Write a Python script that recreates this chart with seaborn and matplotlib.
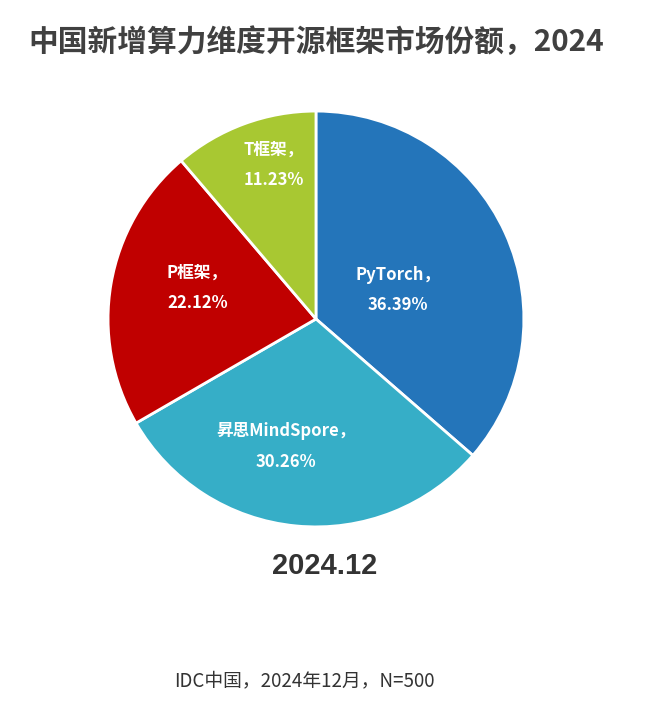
import numpy as np
import matplotlib
matplotlib.use("Agg")
import matplotlib.pyplot as plt
import seaborn as sns

# Framework market share data
frameworks = ["PyTorch", "昇思MindSpore", "P框架", "T框架"]
shares = [36.39, 30.26, 22.12, 11.23]
colors = ["#2475BA", "#36AEC7", "#C00000", "#A8C832"]

title = "中国新增算力维度开源框架市场份额，2024"
period = "2024.12"
source = "IDC中国，2024年12月，N=500"

sns.set_theme(style="white")
plt.rcParams["font.family"] = ["Noto Sans CJK SC", "DejaVu Sans"]

fig = plt.figure(figsize=(6.55, 7.22), dpi=100)
fig.patch.set_facecolor("white")

ax = fig.add_axes([0.1634, 0.2687, 0.638, 0.579])
wedges, _ = ax.pie(
    shares,
    colors=colors,
    startangle=90,
    counterclock=False,
    wedgeprops=dict(edgecolor="white", linewidth=2),
)
ax.set_xlim(-1.005, 1.005)
ax.set_ylim(-1.005, 1.005)
ax.set_aspect("equal")

# Per-wedge label placement: radial distance and angular nudge (degrees)
label_r = [0.42, 0.63, 0.59, 0.77]
label_dtheta = [-5, -8, -5, -5]
for w, name, val, r, dt in zip(wedges, frameworks, shares, label_r, label_dtheta):
    mid = np.deg2rad((w.theta1 + w.theta2) / 2 + dt)
    ax.text(r * np.cos(mid), r * np.sin(mid), f"{name}，\n{val:.2f}%",
            ha="center", va="center", color="white", fontsize=12,
            fontweight="bold", linespacing=1.9)

fig.text(0.483, 0.942, title, ha="center", va="center", fontsize=21.4,
         fontweight="bold", color="#404040")
fig.text(0.496, 0.216, period, ha="center", va="center", fontsize=21,
         fontweight="bold", color="#333333", family="Liberation Sans")
fig.text(0.465, 0.057, source, ha="center", va="center", fontsize=13.5,
         color="#333333")

fig.savefig("out.png", dpi=100, facecolor="white")
